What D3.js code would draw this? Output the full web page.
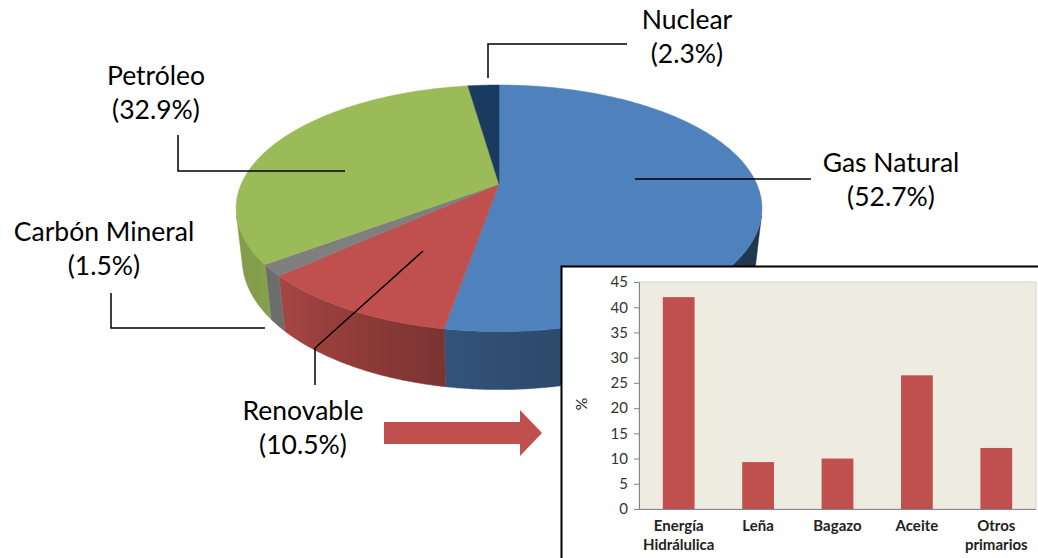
<!DOCTYPE html>
<html>
<head>
<meta charset="utf-8">
<script src="https://cdn.jsdelivr.net/npm/d3@7"></script>
<style>
  html, body { margin: 0; padding: 0; background: #fff; }
  svg { display: block; }
  .lbl { font-family: Lato, "Open Sans", sans-serif; font-size: 26.5px; fill: #000; }
  .tick-lbl { font-family: Lato, sans-serif; font-size: 15px; fill: #333; }
  .cat-lbl { font-family: Lato, sans-serif; font-size: 15px; font-weight: bold; fill: #222; }
</style>
</head>
<body>
<svg id="chart" width="1038" height="558"></svg>
<script>
// Energy mix (share of primary supply, %)
const pieCategories = ["Gas Natural", "Renovable", "Carbón Mineral", "Petróleo", "Nuclear"];
const pieValues = [52.7, 10.5, 1.5, 32.9, 2.3];

// Breakdown of the renewable share (%)
const barCategories = ["Energía Hidrálulica", "Leña", "Bagazo", "Aceite", "Otros primarios"];
const barValues = [42, 9.3, 10, 26.5, 12.1];
const yTickValues = [0, 5, 10, 15, 20, 25, 30, 35, 40, 45];

// Styling
const pieColors = ["#4f81bd", "#c0504d", "#7f7f7f", "#9bbb59", "#1b3a60"];
const barColor = "#c0504d";

const svg = d3.select("#chart");

// ---------- 3D pie: perspective camera looking down on a disk ----------
const cam = { cx: 499, cy: 184, F: 1162, D: 4.508, alpha: 27.37 * Math.PI / 180 };
const sa = Math.sin(cam.alpha), ca = Math.cos(cam.alpha);
const H = 0.224; // disk thickness (world units, radius = 1)

// project point at radius r, screen-angle theta (0 = right, +90° = front), height y
function proj(r, theta, y) {
  const x = r * Math.cos(theta), z = r * Math.sin(theta);
  const depth = cam.D - y * sa - z * ca;
  const up = (y * ca - z * sa) * cam.F / depth;
  return [cam.cx + x * cam.F / depth, cam.cy - up];
}

const pie = d3.pie().sort(null).value(d => d)(pieValues);
const toTheta = a => a - Math.PI / 2;

// side wall visible where the outward normal faces the camera
const sMin = 1 / (cam.D * ca);
const visA = Math.asin(sMin), visB = Math.PI - Math.asin(sMin);

// light falloff on the wall as a function of its angle (degrees)
const shade = d3.scaleLinear()
  .domain([14, 60, 100, 135, 166])
  .range([0.40, 0.50, 0.64, 0.86, 0.84])
  .clamp(true);

function scaleColor(c, f) {
  const r = d3.rgb(c);
  return d3.rgb(r.r * f, r.g * f, r.b * f).formatHex();
}

const defs = svg.append("defs");
const line = d3.line();
const sideG = svg.append("g");
const topG = svg.append("g");

pie.forEach((d, i) => {
  const t0 = toTheta(d.startAngle), t1 = toTheta(d.endAngle);
  // side wall
  const a = Math.max(t0, visA), b = Math.min(t1, visB);
  if (b > a) {
    const n = Math.max(4, Math.ceil((b - a) / 0.01));
    const ts = d3.range(n + 1).map(k => a + (b - a) * k / n);
    const topPts = ts.map(t => proj(1, t, 0));
    const botPts = ts.slice().reverse().map(t => proj(1, t, -H));
    const xs = topPts.map(p => p[0]);
    const x0 = d3.min(xs), x1 = d3.max(xs);
    const gid = "side" + i;
    const grad = defs.append("linearGradient").attr("id", gid)
      .attr("gradientUnits", "userSpaceOnUse")
      .attr("x1", x0).attr("x2", x1).attr("y1", 0).attr("y2", 0);
    // angle grows right-to-left on the front wall, so order stops by x
    const stops = d3.range(9).map(k => a + (b - a) * k / 8)
      .map(t => ({ off: x1 > x0 ? (proj(1, t, 0)[0] - x0) / (x1 - x0) : 0, t }))
      .sort((p, q) => p.off - q.off);
    stops.forEach(s => {
      grad.append("stop")
        .attr("offset", s.off)
        .attr("stop-color", scaleColor(pieColors[i], shade(s.t * 180 / Math.PI)));
    });
    sideG.append("path")
      .attr("d", line(topPts.concat(botPts)) + "Z")
      .attr("fill", `url(#${gid})`)
      .attr("stroke", `url(#${gid})`).attr("stroke-width", 0.5);
  }
  // top face
  const n = Math.max(3, Math.ceil((t1 - t0) / 0.01));
  const arc = d3.range(n + 1).map(k => proj(1, t0 + (t1 - t0) * k / n, 0));
  topG.append("path")
    .attr("d", line([[cam.cx, cam.cy]].concat(arc)) + "Z")
    .attr("fill", pieColors[i])
    .attr("stroke", pieColors[i]).attr("stroke-width", 0.5);
});

// ---------- callout labels ----------
const callouts = [
  { x: 891, y: 172, pts: [[635, 179], [811, 179]] },
  { x: 303, y: 420, pts: [[315, 385], [315, 348], [423, 251]] },
  { x: 104, y: 241, pts: [[111, 293], [111, 328], [265, 328]] },
  { x: 156, y: 85,  pts: [[178, 135], [178, 171], [345, 171]] },
  { x: 687, y: 29,  pts: [[488, 78], [488, 44], [627, 44]] }
];
const lblG = svg.append("g");
pieCategories.forEach((name, i) => {
  const c = callouts[i];
  lblG.append("path").attr("d", line(c.pts))
    .attr("fill", "none").attr("stroke", "#000").attr("stroke-width", 1.5);
  const t = lblG.append("text").attr("class", "lbl").attr("text-anchor", "middle");
  t.append("tspan").attr("x", c.x).attr("y", c.y).text(name);
  t.append("tspan").attr("x", c.x).attr("y", c.y + 34).text(`(${pieValues[i]}%)`);
});

// arrow pointing to the breakdown
svg.append("path")
  .attr("d", line([[384, 422], [520, 422], [520, 410], [542, 433], [520, 456], [520, 444], [384, 444]]) + "Z")
  .attr("fill", "#c0504d");

// ---------- inset bar chart ----------
svg.append("rect")
  .attr("x", 561.5).attr("y", 266.5).attr("width", 520).attr("height", 320)
  .attr("fill", "#fff").attr("stroke", "#000").attr("stroke-width", 2);

const plot = { left: 639, right: 1036, top: 282, bottom: 509 };
const x = d3.scaleBand().domain(barCategories)
  .range([plot.left, plot.right]).paddingInner(0.6).paddingOuter(0.3);
const y = d3.scaleLinear().domain([0, 45]).range([plot.bottom, plot.top]);

svg.append("rect")
  .attr("x", plot.left).attr("y", plot.top)
  .attr("width", plot.right - plot.left).attr("height", plot.bottom - plot.top)
  .attr("fill", "#eeebe0").attr("stroke", "#d4d4d4").attr("stroke-width", 1);

svg.append("g").selectAll("rect").data(barValues).join("rect")
  .attr("x", (d, i) => x(barCategories[i]))
  .attr("width", x.bandwidth())
  .attr("y", d => y(d))
  .attr("height", d => y(0) - y(d))
  .attr("fill", barColor);

const yAxis = svg.append("g").attr("transform", `translate(${plot.left},0)`)
  .call(d3.axisLeft(y).tickValues(yTickValues).tickSize(5).tickPadding(6));
yAxis.select(".domain").attr("stroke", "#868686");
yAxis.selectAll(".tick line").attr("stroke", "#868686");
yAxis.selectAll(".tick text").attr("class", "tick-lbl").attr("font-family", null).attr("font-size", null).attr("fill", null);

svg.append("line")
  .attr("x1", plot.left).attr("x2", plot.right)
  .attr("y1", plot.bottom + 0.5).attr("y2", plot.bottom + 0.5)
  .attr("stroke", "#868686");

const catG = svg.append("g");
barCategories.forEach(c => {
  const words = c.split(" ");
  const t = catG.append("text").attr("class", "cat-lbl").attr("text-anchor", "middle");
  words.forEach((w, k) => {
    t.append("tspan").attr("x", x(c) + x.bandwidth() / 2).attr("y", 531 + k * 19).text(w);
  });
});

svg.append("text").attr("class", "tick-lbl")
  .attr("transform", "translate(587,404) rotate(-90)")
  .attr("text-anchor", "middle").style("font-size", "16px").style("fill", "#222")
  .text("%");
</script>
</body>
</html>
